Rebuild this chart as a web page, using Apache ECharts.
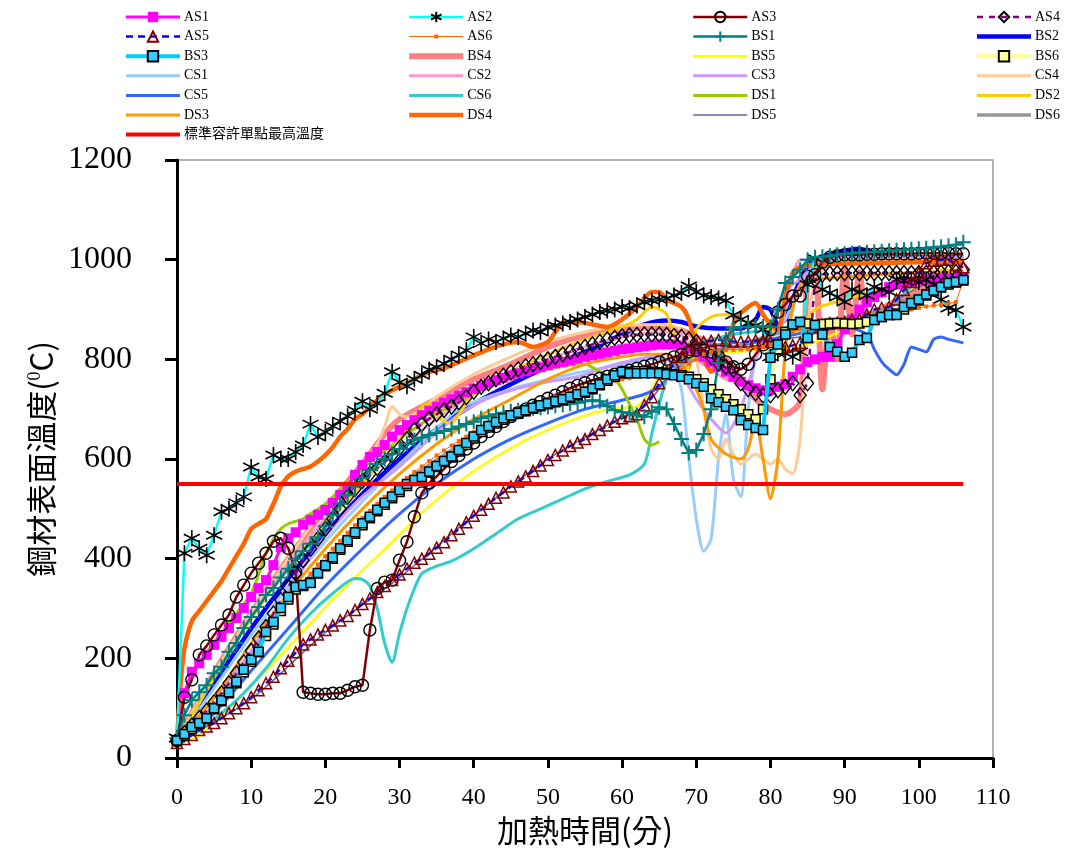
<!DOCTYPE html>
<html><head><meta charset="utf-8">
<script src="https://cdn.jsdelivr.net/npm/echarts/dist/echarts.min.js"></script>
<style>html,body{margin:0;padding:0;background:#fff}#c{width:1067px;height:857px}</style>
</head><body><div id="c"></div><script>
// ---------- DATA ----------
const MINUTES = [0,1,2,3,4,5,6,7,8,9,10,11,12,13,14,15,16,17,18,19,20,21,22,23,24,25,26,27,28,29,30,31,32,33,34,35,36,37,38,39,40,41,42,43,44,45,46,47,48,49,50,51,52,53,54,55,56,57,58,59,60,61,62,63,64,65,66,67,68,69,70,71,72,73,74,75,76,77,78,79,80,81,82,83,84,85,86,87,88,89,90,91,92,93,94,95,96,97,98,99,100,101,102,103,104,105,106];
const X_TICKS = [0,10,20,30,40,50,60,70,80,90,100,110];
const Y_TICKS = [0,200,400,600,800,1000,1200];
const LIMIT_T = [0,106];
const LIMIT_V = [550,550];

const AS1 = [35,130,173,190,207,227,243,261,281,301, 323,341,357,387,423,441,453,468,478,488, 498,512,528,544,568,588,604,614,628,645, 658,668,678,688,697,705,713,720,727,734, 741,747,753,758,763,768,772,776,780,784, 788,792,795,798,802,805,808,811,814,817, 820,822,824,826,828,830,830,830,828,822, 815,805,795,785,775,765,755,748,742,738, 740,745,750,765,780,795,800,805,805,830, 860,880,900,915,925,935,945,950,955,955, 958,960,960,962,962,963,963];
const AS2 = [40,411,441,421,407,447,494,500,512,524, 584,564,560,608,600,600,614,628,670,644, 654,666,676,686,698,716,700,712,732,775, 754,746,760,768,779,784,791,800,809,818, 845,832,840,835,842,848,845,852,858,855, 865,868,872,875,880,885,890,895,898,900, 905,903,908,915,918,920,922,928,933,947, 935,928,925,922,918,889,880,873,868,860, 805,812,812,805,815,950,1003,940,933,925, 915,940,935,928,945,940,935,960,958,960, 955,960,950,920,903,899,865];
const AS3 = [35,122,157,207,225,247,267,287,323,347, 371,391,411,435,441,421,373,132,130,128, 128,130,130,136,143,146,257,340,353,357, 397,434,484,532,552,565,580,595,607,620, 632,645,655,665,675,685,693,700,708,715, 722,728,735,742,748,753,758,762,766,770, 774,778,782,786,790,795,800,805,810,815, 818,818,815,805,795,785,780,790,810,829, 860,895,910,927,927,967,970,995,1005,1008, 1010,1010,1010,1011,1011,1012,1012,1012,1012,1012, 1013,1013,1013,1013,1013,1012,1012];
const AS4 = [35,50,65,80,95,112,130,150,170,192, 215,240,263,290,317,343,370,397,420,440, 460,480,500,524,540,556,570,582,594,608, 622,640,658,670,681,690,698,705,714,724, 735,745,752,760,767,774,780,786,790,795, 800,805,810,815,820,825,830,835,840,843, 846,848,849,850,850,850,849,847,845,840, 835,820,805,792,785,779,752,740,732,728, 728,738,745,752,728,752,960,970,972,973, 973,973,973,973,973,973,973,973,973,973, 973,973,974,974,975,975,980];
const AS5 = [30,38,46,56,63,70,80,90,100,110, 122,136,150,163,180,195,212,228,238,248, 257,266,276,285,297,309,320,333,345,357, 368,380,392,400,410,422,433,447,460,473, 486,498,510,522,533,545,555,565,576,587, 598,608,617,626,633,640,650,658,667,675, 682,686,690,708,724,752,775,790,805,819, 830,835,837,839,838,836,835,836,838,837, 835,830,825,828,833,845,865,870,872,873, 875,879,880,890,900,903,905,920,939,955, 973,993,998,1000,1000,990,985];
const AS6 = [30,40,55,70,85,102,120,138,158,180, 200,220,245,268,290,312,333,352,370,388, 405,420,436,452,467,482,496,510,524,537, 550,562,574,585,596,607,617,627,636,645, 654,662,670,677,684,691,697,703,708,714, 719,724,729,734,738,742,746,750,754,757, 760,762,765,768,770,772,774,776,780,790, 800,810,815,818,819,819,820,820,822,825, 830,835,845,855,860,862,865,866,868,870, 872,874,876,880,883,886,890,893,896,900, 903,906,908,910,912,915,958];
const BS1 = [40,86,116,132,146,170,183,213,231,261, 283,303,327,341,362,380,400,415,430,443, 465,488,510,528,545,562,578,590,600,610, 620,630,638,643,648,652,656,660,665,670, 675,682,686,690,693,696,698,700,702,703, 705,707,709,711,713,716,718,716,706,698, 694,692,688,685,695,704,700,670,640,612, 618,650,700,793,840,863,865,865,866,866, 865,900,953,965,980,1000,1005,1006,1008,1010, 1012,1013,1014,1015,1016,1017,1018,1019,1020,1021, 1022,1023,1025,1026,1028,1030,1035];
const BS3 = [35,48,62,70,80,100,116,132,153,177, 197,213,253,273,301,323,343,347,351,371, 387,403,421,437,453,471,484,498,512,525, 538,550,558,564,575,586,596,605,618,632, 645,658,666,674,682,688,693,698,703,708, 712,716,720,725,730,735,742,750,760,768, 775,772,772,772,772,772,770,768,765,760, 752,745,722,714,705,698,678,668,662,658, 803,830,850,870,875,843,869,850,825,815, 805,813,839,843,879,885,889,889,905,913, 920,930,938,945,953,955,959];
const BS6 = [35,45,58,68,80,98,114,130,150,172, 193,212,245,268,295,318,338,345,352,370, 385,400,418,434,450,467,481,495,508,521, 534,546,556,563,573,584,594,603,615,628, 641,654,663,671,679,686,691,696,701,706, 710,714,718,723,728,733,740,748,757,765, 772,775,776,776,775,774,772,770,768,765, 760,752,740,730,720,710,700,690,680,700, 760,820,855,870,875,872,869,871,872,873, 872,871,872,875,879,885,889,892,900,910, 918,928,936,944,950,954,958];

const T_BS2 = [0,5,10,15,20,25,30,35,40,45,50,55,60,63,66,68,70,73,76,78,79,80,81,82,83,84,85,87,90,92,93,95,100,106];
const BS2 = [35,150,260,360,450,530,600,660,710,750,785,815,850,870,878,875,866,862,862,880,905,900,870,880,920,960,985,1005,1018,1022,1018,1008,1005,1005];
const T_BS4 = [0,5,10,15,20,25,28,30,35,40,45,50,55,60,65,68,70,72,74,76,78,80,82,84,85,86,87,88,89,90,91,92,93,94,96,98,100,103,106];
const BS4 = [35,170,290,400,500,590,650,680,720,760,790,825,848,860,865,858,845,830,800,760,720,700,690,715,960,990,740,880,800,985,850,975,880,890,910,925,940,950,955];
const T_BS5 = [0,3,6,9,12,15,18,21,24,27,30,33,36,39,42,45,48,51,54,57,60,62,64,66,68,70,75,80,85,90,95,100,103,106];
const BS5 = [30,45,85,130,175,222,270,318,362,405,448,492,530,565,595,622,645,665,682,696,703,706,740,795,805,810,815,820,830,860,900,950,980,980];
const T_CS1 = [0,5,10,15,20,25,30,38,45,54,60,63,65,67,68,69,70,71,72,73,74,75,76,77,78,80,82,84,86,90,95,100,106];
const CS1 = [35,140,245,345,435,515,590,700,740,773,790,800,800,770,740,600,480,415,440,600,690,560,524,700,800,850,880,950,985,990,990,995,1000];
const T_CS2 = [0,5,10,15,20,25,30,35,40,45,50,55,60,65,68,70,72,74,76,78,80,82,84,86,90,95,100,106];
const CS2 = [35,165,285,390,480,555,620,680,730,770,800,825,845,855,850,800,780,760,750,720,760,900,1000,1000,1000,1005,1005,1005];
const T_CS3 = [0,5,10,15,20,25,30,34,38,42,46,50,54,58,62,64,66,68,70,72,74,76,78,80,82,84,86,90,100,106];
const CS3 = [35,120,215,335,445,525,585,640,690,722,742,755,765,785,800,805,800,770,720,680,652,700,800,870,940,960,990,1005,1005,1005];
const T_CS4 = [0,5,10,15,20,25,27,28,29,30,31,33,35,40,45,50,55,60,65,68,70,71,72,73,74,75,76,77,78,79,80,81,82,83,84,85,86,88,90,100,106];
const CS4 = [35,170,290,400,505,580,630,665,705,690,685,700,725,770,805,835,855,868,870,860,800,700,620,600,640,610,590,600,610,600,590,600,580,570,640,850,960,990,1000,1000,1000];
const T_CS5 = [0,5,10,15,20,25,30,35,40,45,50,55,60,63,65,68,70,75,80,85,90,93,94,95,96,97,98,99,100,101,102,103,104,106];
const CS5 = [30,90,175,260,345,420,490,550,600,640,672,700,718,730,745,790,810,825,840,855,865,850,820,795,780,769,790,825,820,815,840,845,840,833];
const T_CS6 = [0,3,6,9,12,15,18,21,24,25,26,27,28,29,30,31,32,33,35,37,40,43,46,49,52,55,58,61,63,64,65,66,67,68,70,75,80,85,90,95,100,103,106];
const CS6 = [30,55,90,130,180,240,290,330,360,358,345,300,230,192,250,300,340,370,385,395,420,450,480,500,520,540,555,568,590,650,710,760,790,810,830,850,860,870,880,890,960,970,960];
const T_DS1 = [0,1,2,3,5,8,10,12,13,14,15,16,17,18,20,25,30,35,40,45,50,53,55,57,59,60,61,62,63,64,65];
const DS1 = [35,120,165,190,232,290,330,410,440,460,470,475,480,490,510,580,640,690,730,762,780,788,790,775,760,740,710,680,640,628,635];
const T_DS2 = [0,5,10,15,20,25,30,32,33,34,35,36,37,38,40,45,50,55,60,62,64,66,68,69,70,72,74,76,78,80,82,84,86,90,95,100,103,106];
const DS2 = [35,160,280,380,470,550,640,680,705,712,690,675,672,690,730,775,810,840,865,880,905,890,800,780,860,885,890,880,870,860,855,860,900,920,940,960,980,975];
const T_DS3 = [0,5,10,15,20,25,30,35,40,45,50,55,60,63,66,68,70,71,72,74,76,77,78,79,80,81,82,83,84,86,90,95,100,106];
const DS3 = [35,120,230,330,420,500,570,630,680,720,760,790,805,810,810,790,740,700,640,610,600,620,680,600,520,600,820,900,950,960,965,970,975,975];
const T_DS4 = [0,0.5,1,2,3,4,5,6,7,8,9,10,11,12,13,14,15,16,17,18,19,20,21,22,23,24,25,26,27,28,30,32,34,36,38,40,42,44,46,48,50,51,52,54,56,58,60,62,64,65,66,68,69,70,71,72,73,74,75,76,78,79,80,81,82,83,84,86,90,100,106];
const DS4 = [35,150,220,275,295,315,335,355,380,405,430,460,470,480,510,545,565,575,580,585,595,608,624,645,660,680,690,705,718,730,745,760,775,782,795,808,820,830,835,825,835,855,873,875,870,865,880,905,935,935,920,905,880,825,800,775,800,830,870,893,913,890,870,859,925,973,985,990,992,995,995];
const T_DS5 = [0,10,20,30,40,50,60,63,66,70,75,80,85,90,95,100,106];
const DS5 = [30,118,252,362,487,600,684,705,760,825,832,838,848,870,900,945,965];
const T_DS6 = [0,5,10,15,20,25,30,35,40,45,50,55,60,65,70,75,80,85,90,95,100,106];
const DS6 = [35,105,205,320,395,478,545,598,645,685,715,740,762,778,800,825,848,868,882,900,930,952];

// ---------- STYLE ----------
const STAR = 'path://M5,0L5,10M0.7,2.5L9.3,7.5M0.7,7.5L9.3,2.5';
const PLUS = 'path://M5,0L5,10M0,5L10,5';
const T0 = 'rgba(255,255,255,0)';
const pairs = (t, v) => t.map((x, i) => [x, v[i]]);
const bar = w => 'path://M0,0H54V' + w + 'H0Z';

const defs = [
  {name:'AS1', t:MINUTES, v:AS1, c:'#FF00FF', w:3, sym:'rect', ss:10, is:{color:'#FF00FF'}, z:3},
  {name:'AS2', t:MINUTES, v:AS2, c:'#00FFFF', w:2.5, sym:STAR, ss:16, is:{color:T0, borderColor:'#000', borderWidth:1.6}, z:3},
  {name:'AS3', t:MINUTES, v:AS3, c:'#800000', w:2.5, sym:'circle', ss:12, is:{color:T0, borderColor:'#000', borderWidth:1.4}, z:3},
  {name:'AS4', t:MINUTES, v:AS4, c:'#800080', w:2.5, dash:[6,6], sym:'diamond', ss:[12,15], is:{color:T0, borderColor:'#000', borderWidth:1.4}, z:3},
  {name:'AS5', t:MINUTES, v:AS5, c:'#0000FF', w:2.5, dash:[7,5], sym:'triangle', ss:11, is:{color:T0, borderColor:'#800000', borderWidth:1.5}, z:3},
  {name:'AS6', t:MINUTES, v:AS6, c:'#FF6600', w:1, sym:'rect', ss:4, is:{color:'#FF6600'}, z:3, icon:'path://M0,3H54V4H0Z M25,1.5H29V5.5H25Z'},
  {name:'BS1', t:MINUTES, v:BS1, c:'#008080', w:2.5, sym:PLUS, ss:15, is:{color:T0, borderColor:'#008080', borderWidth:2}, z:3},
  {name:'BS2', t:T_BS2, v:BS2, c:'#0000FF', w:4.5},
  {name:'BS3', t:MINUTES, v:BS3, c:'#00CCFF', w:4, sym:'rect', ss:9, is:{color:'#33CCFF', borderColor:'#000', borderWidth:1.5}, z:4},
  {name:'BS4', t:T_BS4, v:BS4, c:'#FF8080', w:6},
  {name:'BS5', t:T_BS5, v:BS5, c:'#FFFF00', w:2.5},
  {name:'BS6', t:MINUTES, v:BS6, c:'#FFFF99', w:4, sym:'rect', ss:9, is:{color:'#FFFF99', borderColor:'#000', borderWidth:1.5}, z:3},
  {name:'CS1', t:T_CS1, v:CS1, c:'#99CCFF', w:3},
  {name:'CS2', t:T_CS2, v:CS2, c:'#FF99CC', w:3},
  {name:'CS3', t:T_CS3, v:CS3, c:'#CC99FF', w:3},
  {name:'CS4', t:T_CS4, v:CS4, c:'#FFCC99', w:3},
  {name:'CS5', t:T_CS5, v:CS5, c:'#3366FF', w:3},
  {name:'CS6', t:T_CS6, v:CS6, c:'#33CCCC', w:3},
  {name:'DS1', t:T_DS1, v:DS1, c:'#99CC00', w:3},
  {name:'DS2', t:T_DS2, v:DS2, c:'#FFCC00', w:3},
  {name:'DS3', t:T_DS3, v:DS3, c:'#FF9900', w:3},
  {name:'DS4', t:T_DS4, v:DS4, c:'#FF6600', w:4.5},
  {name:'DS5', t:T_DS5, v:DS5, c:'#666699', w:1.5},
  {name:'DS6', t:T_DS6, v:DS6, c:'#969696', w:3.5},
  {name:'標準容許單點最高溫度', t:LIMIT_T, v:LIMIT_V, c:'#FF0000', w:4, z:10}
];

const series = defs.map(d => ({
  name: d.name, type: 'line', data: pairs(d.t, d.v),
  showSymbol: !!d.sym, symbol: d.sym || 'none', symbolSize: d.ss || 0,
  itemStyle: d.is || {color: d.c},
  lineStyle: {color: d.c, width: d.w, type: d.dash || 'solid', cap: 'butt'},
  smooth: d.sym ? false : 0.25,
  z: d.z || 2, animation: false, emphasis: {disabled: true}
}));

const iconFor = {};
defs.forEach(d => { iconFor[d.name] = d.icon || (d.sym ? null : bar(d.w)); });

const SERIF = "'Liberation Serif','Noto Sans CJK TC',serif";
const COLS = [
  {left:124, data:['AS1','AS5','BS3','CS1','CS5','DS3','標準容許單點最高溫度']},
  {left:408, data:['AS2','AS6','BS4','CS2','CS6','DS4']},
  {left:692, data:['AS3','BS1','BS5','CS3','DS1','DS5']},
  {left:975, data:['AS4','BS2','BS6','CS4','DS2','DS6']}
];

const chart = echarts.init(document.getElementById('c'), null, {renderer:'canvas'});
chart.setOption({
  animation: false,
  backgroundColor: '#fff',
  grid: {left:177, right:74, top:160, bottom:99, show:true, borderColor:'#999', borderWidth:1.5, backgroundColor:'transparent'},
  legend: COLS.map(c => ({
    orient:'vertical', left:c.left, top:10, padding:0,
    itemWidth:54, itemHeight:13, itemGap:5.6, selectedMode:false, symbolKeepAspect:true,
    lineStyle:{width:'inherit'},
    textStyle:{fontFamily:SERIF, fontSize:14, color:'#000', padding:[0,0,0,-1]},
    data:c.data.map(n => iconFor[n] ? {name:n, icon:iconFor[n]} : {name:n})
  })),
  xAxis: {
    type:'value', min:0, max:110, interval:10,
    axisLine:{lineStyle:{color:'#000', width:3}},
    axisTick:{inside:false, length:10, lineStyle:{color:'#000', width:3}},
    axisLabel:{fontFamily:SERIF, fontSize:24, color:'#000', margin:28,
      formatter: v => X_TICKS.includes(v) ? String(v) : ''},
    splitLine:{show:false},
    name:'加熱時間(分)', nameLocation:'middle', nameGap:57,
    nameTextStyle:{fontFamily:"'Noto Sans CJK TC',sans-serif", fontSize:31, color:'#000'}
  },
  yAxis: {
    type:'value', min:0, max:1200, interval:200,
    axisLine:{show:true, lineStyle:{color:'#000', width:3}},
    axisTick:{show:true, inside:false, length:12, lineStyle:{color:'#000', width:3}},
    axisLabel:{fontFamily:SERIF, fontSize:32, color:'#000', margin:45,
      formatter: v => Y_TICKS.includes(v) ? String(v) : ''},
    splitLine:{show:false},
    name:'鋼材表面溫度({sup|0}C)', nameLocation:'middle', nameGap:110, nameRotate:90,
    nameTextStyle:{fontFamily:"'Noto Sans CJK TC',sans-serif", fontSize:31, color:'#000',
      rich:{sup:{fontFamily:SERIF, fontSize:18, color:'#000', verticalAlign:'top', padding:[0,0,12,0]}}}
  },
  series: series
});
</script></body></html>
